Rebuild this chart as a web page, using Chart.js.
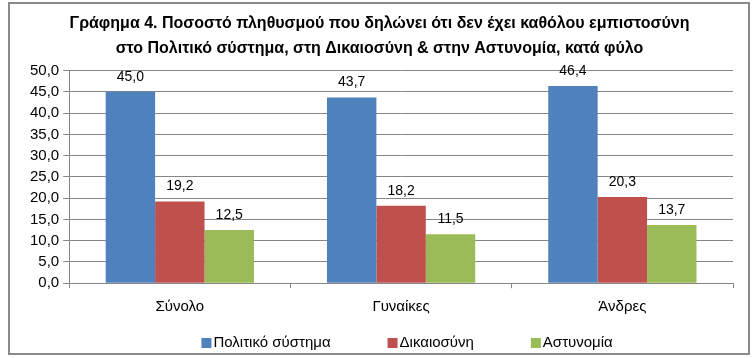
<!DOCTYPE html>
<html><head><meta charset="utf-8">
<script src="https://cdn.jsdelivr.net/npm/chart.js@4"></script>
<style>
html,body{margin:0;padding:0;background:#fff;}
#wrap{position:absolute;left:0;top:0;width:755px;height:358px;}
#frame{position:absolute;left:8px;top:2px;width:738px;height:349px;border:2px solid #8a8a8a;pointer-events:none;}
</style></head><body>
<div id="wrap"><canvas id="c" width="755" height="358"></canvas><div id="frame"></div></div>
<script>
const categories = ["Σύνολο", "Γυναίκες", "Άνδρες"];
const seriesNames = ["Πολιτικό σύστημα", "Δικαιοσύνη", "Αστυνομία"];
const politiko = [45.0, 43.7, 46.4];
const dikaiosyni = [19.2, 18.2, 20.3];
const astynomia = [12.5, 11.5, 13.7];
const titleLines = ["Γράφημα 4. Ποσοστό πληθυσμού που δηλώνει ότι δεν έχει καθόλου εμπιστοσύνη", "στο Πολιτικό σύστημα, στη Δικαιοσύνη & στην Αστυνομία, κατά φύλο"];
const colors = ["#4f81bd", "#c0504d", "#9bbb59"];

const FONT = '"Liberation Sans", Arial, sans-serif';
const fmt = v => v.toFixed(1).replace('.', ',');

const labelPlugin = {
  id: 'vals',
  afterDatasetsDraw(chart) {
    const ctx = chart.ctx;
    ctx.save();
    ctx.font = '14px ' + FONT;
    ctx.fillStyle = '#000';
    ctx.textAlign = 'center';
    ctx.textBaseline = 'bottom';
    chart.data.datasets.forEach((ds, i) => {
      chart.getDatasetMeta(i).data.forEach((bar, j) => {
        ctx.fillText(fmt(ds.data[j]), bar.x, bar.y - 8);
      });
    });
    ctx.restore();
  }
};

// legend drawn with wide spacing between items, as in the reference
const legendPlugin = {
  id: 'wideLegend',
  afterDraw(chart) {
    const ctx = chart.ctx;
    ctx.save();
    ctx.font = '15px ' + FONT;
    ctx.textBaseline = 'middle';
    ctx.textAlign = 'left';
    const box = 10, gapBox = 2, gapItem = 57;
    const items = chart.data.datasets.map(ds => ({ text: ds.label, color: ds.backgroundColor, w: box + gapBox + ctx.measureText(ds.label).width }));
    const total = items.reduce((s, it) => s + it.w, 0) + gapItem * (items.length - 1);
    const cx = (chart.chartArea.left + chart.chartArea.right) / 2 + 6;
    let x = cx - total / 2;
    const y = chart.height - 15;
    items.forEach(it => {
      ctx.fillStyle = it.color;
      ctx.fillRect(x, y - 5, box, box);
      ctx.fillStyle = '#000';
      ctx.fillText(it.text, x + box + gapBox, y);
      x += it.w + gapItem;
    });
    ctx.restore();
  }
};

new Chart(document.getElementById('c'), {
  type: 'bar',
  data: {
    labels: categories,
    datasets: [
      { label: seriesNames[0], data: politiko, backgroundColor: colors[0] },
      { label: seriesNames[1], data: dikaiosyni, backgroundColor: colors[1] },
      { label: seriesNames[2], data: astynomia, backgroundColor: colors[2] }
    ]
  },
  options: {
    responsive: false,
    animation: false,
    devicePixelRatio: 1,
    layout: { padding: { left: 26, right: 22, top: 6, bottom: 25 } },
    datasets: { bar: { categoryPercentage: 0.67, barPercentage: 1.0 } },
    plugins: {
      title: {
        display: true, text: titleLines, color: '#000',
        font: { family: FONT, size: 16, weight: 'bold', lineHeight: 1.55 },
        padding: { top: 5, bottom: 10 }
      },
      legend: { display: false },
      tooltip: { enabled: false }
    },
    scales: {
      x: {
        grid: { display: true, drawOnChartArea: false, color: '#868686', tickLength: 5, offset: true },
        border: { color: '#868686' },
        ticks: { color: '#000', padding: 10, autoSkip: false, maxRotation: 0, font: { family: FONT, size: 15 } },
        title: { display: true, text: ' ', font: { size: 4 }, padding: { top: 1, bottom: 1 } }
      },
      y: {
        min: 0, max: 50,
        grid: { color: '#868686', tickLength: 6 },
        border: { color: '#868686' },
        ticks: { stepSize: 5, autoSkip: false, color: '#000', padding: 4, callback: v => fmt(v),
          font: { family: FONT, size: 15 } }
      }
    }
  },
  plugins: [labelPlugin, legendPlugin]
});
</script></body></html>
